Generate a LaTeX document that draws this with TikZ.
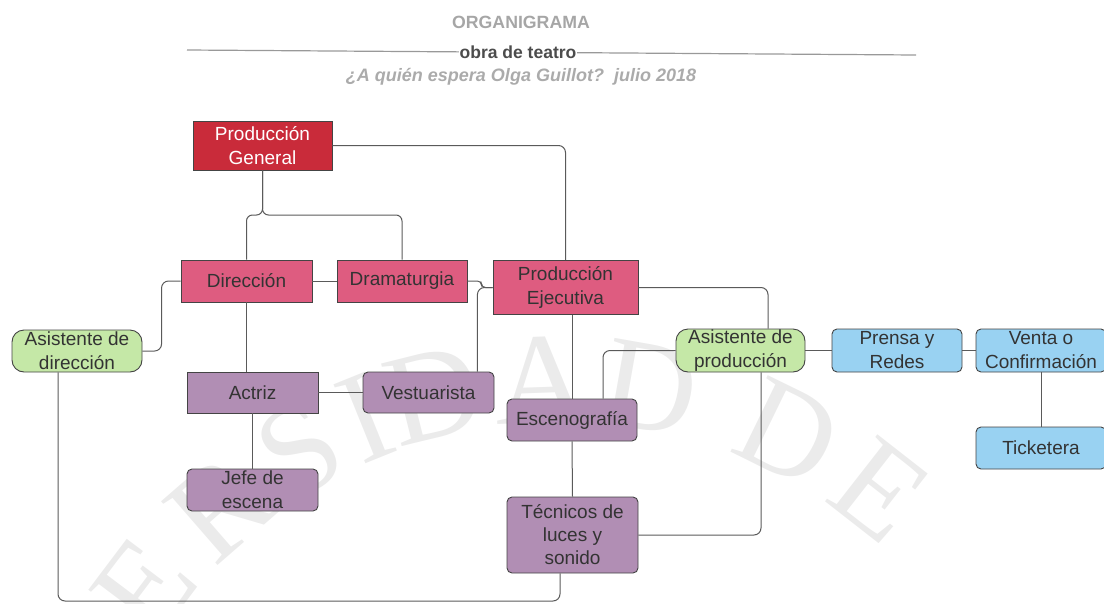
\documentclass[tikz,border=0pt]{standalone}
\usepackage{fontspec}
\setmainfont{Liberation Sans}
\newfontfamily\wmfont{Liberation Serif}
\usetikzlibrary{calc}
\definecolor{pgred}{HTML}{C92B3A}
\definecolor{pink}{HTML}{DE5C80}
\definecolor{purp}{HTML}{B18EB4}
\definecolor{grn}{HTML}{C5E8A7}
\definecolor{blu}{HTML}{99D2F2}
\definecolor{bord}{HTML}{444444}
\definecolor{conn}{HTML}{5A5A5A}
\definecolor{txt}{HTML}{333333}
\tikzset{
  box/.style={draw=bord, line width=0.9pt, align=center, text=txt, inner sep=0pt,
    font=\fontsize{19}{24}\selectfont},
  redbox/.style={box, fill=pgred, text=white},
  pinkbox/.style={box, fill=pink},
  purpsq/.style={box, fill=purp},
  purprd/.style={box, fill=purp, rounded corners=5pt},
  grnbox/.style={box, fill=grn, rounded corners=12pt},
  blubox/.style={box, fill=blu, rounded corners=5pt},
  link/.style={draw=conn, line width=1pt, rounded corners=7pt},
  wm/.style={text=black!8, font=\wmfont\fontsize{130}{130}\selectfont, inner sep=0pt}
}
\begin{document}
\begin{tikzpicture}[x=1pt,y=-1pt]
\useasboundingbox (0,0) rectangle (1104,603);
% watermark
\foreach \l/\a [count=\i] in {E/143,R/131,S/120,I/112,D/104,A/92,D/80,D/64,E/52}
  \node[wm, rotate=\a-90] (wm\i) at ({560+520*cos(\a)},{900-520*sin(\a)}) {\l};

% titles
\node[text=black!35, font=\bfseries\fontsize{17.7}{20}\selectfont] (t1) at (521,22) {ORGANIGRAMA};
\coordinate (lineL) at (187,50);
\coordinate (lineR) at (916,55);
\draw[black!40, line width=1.2pt] (lineL) -- (lineR);
\node[fill=white, inner sep=1pt, text=black!70, font=\bfseries\fontsize{17.5}{20}\selectfont] (t2) at (518,52) {obra de teatro};
\node[text=black!33, font=\bfseries\itshape\fontsize{18}{20}\selectfont] (t3) at (521,77) {¿A quién espera Olga Guillot?\ \ julio 2018};

% nodes
\node[redbox, minimum width=139pt, minimum height=49pt] (pg) at (262.5,145.5) {Producción\\General};
\node[pinkbox, minimum width=131pt, minimum height=42pt] (dir) at (246.5,281) {Dirección};
\node[pinkbox, minimum width=130pt, minimum height=42pt] (dram) at (402,281) {Dramaturgia};
\node[pinkbox, minimum width=145pt, minimum height=54pt] (pe) at (565.5,287.5) {Producción\\Ejecutiva};
\node[grnbox, minimum width=130pt, minimum height=42pt] (ad) at (77,351) {Asistente de\\dirección};
\node[purpsq, minimum width=131pt, minimum height=41pt] (act) at (252.5,392.5) {Actriz};
\node[purprd, minimum width=131pt, minimum height=41pt] (vest) at (428.5,392.5) {Vestuarista};
\node[purprd, minimum width=130pt, minimum height=42pt] (esc) at (572,420) {Escenografía};
\node[purprd, minimum width=131pt, minimum height=42pt] (jefe) at (252.5,490) {Jefe de\\escena};
\node[purprd, minimum width=131pt, minimum height=76pt, font=\fontsize{19}{23}\selectfont] (tec) at (572.5,535) {Técnicos de\\luces y\\sonido};
\node[grnbox, minimum width=129pt, minimum height=43pt] (ap) at (740.5,350.5) {Asistente de\\producción};
\node[blubox, minimum width=130pt, minimum height=43pt] (pr) at (897,350.5) {Prensa y\\Redes};
\node[blubox, minimum width=130pt, minimum height=43pt] (vc) at (1041,350.5) {Venta o\\Confirmación};
\node[blubox, minimum width=130pt, minimum height=42pt] (tk) at (1041,448) {Ticketera};

% connectors
\coordinate (split) at (262.5,215);
\draw[link, rounded corners=6pt] (pg.south) -- (split) -| (dir.north);
\draw[link, rounded corners=6pt] (pg.south) -- (split) -| (dram.north);
\draw[link] (pg.east) -| (pe.north);
\draw[link] (dir.west) -- ++(-19,0) |- (ad.east);
\draw[link] (dir.east) -- (dram.west);
\draw[link, rounded corners=4pt] (dram.east) -- ++(14,0) |- (pe.west);
\draw[link] ([xshift=-17pt]vest.north east) |- (pe.west);
\draw[link] (dir.south) -- (dir.south |- act.north);
\draw[link] (act.east) -- (vest.west);
\draw[link] (act.south) -- (jefe.north);
\draw[link] (esc.north) -- (esc.north |- pe.south);
\draw[link] (pe.east) -| ([xshift=27.5pt]ap.north);
\draw[link] (ap.west) -| ([xshift=31pt]esc.north);
\draw[link] (esc.south) -- (tec.north);
\draw[link] ([xshift=20.5pt]ap.south) |- (tec.east);
\coordinate (bot) at (300,601);
\draw[link] ([xshift=-19pt]ad.south) |- (bot) -| ([xshift=-12.5pt]tec.south);
\draw[link] (ap.east) -- (pr.west);
\draw[link] (pr.east) -- (vc.west);
\draw[link] (vc.south) -- (tk.north);
\end{tikzpicture}
\end{document}
